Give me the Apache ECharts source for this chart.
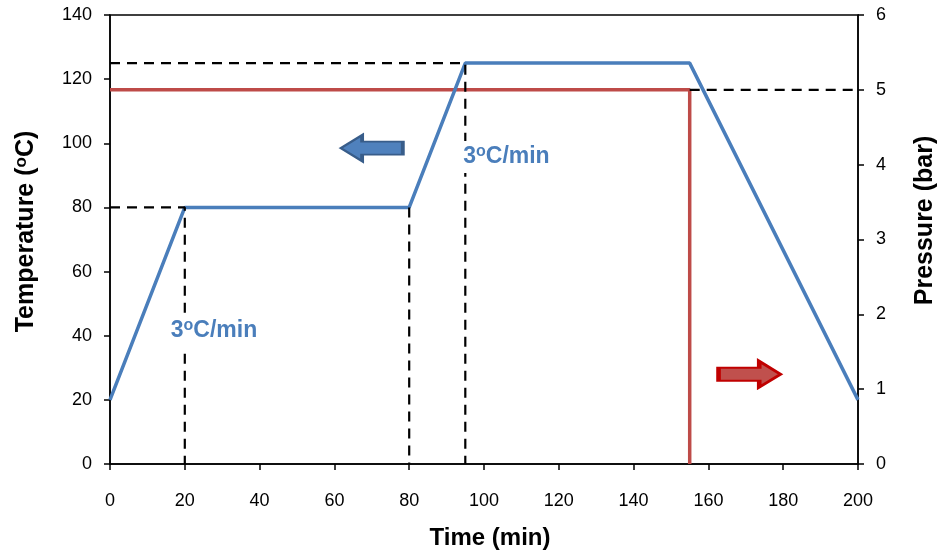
<!DOCTYPE html>
<html><head><meta charset="utf-8">
<script src="https://cdn.jsdelivr.net/npm/echarts@6/dist/echarts.min.js"></script>
<style>html,body{margin:0;padding:0;background:#fff}#c{width:941px;height:554px}</style>
</head><body><div id="c"></div>
<script>
// Data
const tempProfile = [[0,20],[20,80],[80,80],[95,125],[155,125],[200,20]];
const pressureProfile = [[0,5],[155,5],[155,0]];
const guide80 = [[0,80],[20,80],[20,0]];
const guide80v = [[80,80],[80,0]];
const guide125 = [[0,125],[95,125],[95,0]];
const guidePressure = [[155,5],[200,5]];
const rateLabels = [{x:27.8,y:41.5},{x:106,y:95.7}];
const blueArrow = [70,98.5];
const redArrow = [171,28];

const FONT = 'Liberation Sans, Arial, sans-serif';
const chart = echarts.init(document.getElementById('c'));
const dash = {color:'#000',width:2.2,type:[10,7]};
const leftArrowPath = 'path://M0,14 L22,0 L22,7 L64,7 L64,21 L22,21 L22,28 Z';
const rightArrowPath = 'path://M64,14 L42,0 L42,7 L0,7 L0,21 L42,21 L42,28 Z';
const axisCommon = {
  axisLine:{show:true,lineStyle:{color:'#000',width:1.5}},
  axisTick:{show:true,inside:false,length:6,lineStyle:{color:'#000',width:1.5}},
  splitLine:{show:false}
};
chart.setOption({
  animation:false,
  grid:{left:110,right:83,top:15,bottom:90,outerBoundsMode:'none',containLabel:false,
        show:true,borderColor:'#000',borderWidth:1.5,backgroundColor:'transparent'},
  xAxis:Object.assign({type:'value',min:0,max:200,interval:20,
    name:'Time (min)',nameLocation:'middle',nameGap:62,
    nameTextStyle:{fontFamily:FONT,fontWeight:'bold',fontSize:24,color:'#000',padding:[0,0,0,12]},
    axisLabel:{margin:28,fontFamily:FONT,fontSize:18,color:'#000'}},axisCommon),
  yAxis:[
    Object.assign({type:'value',min:0,max:140,interval:20,position:'left',
     name:'Temperature ({s|o}C)',
     nameLocation:'middle',nameGap:70,nameRotate:90,
     nameTextStyle:{fontFamily:FONT,fontWeight:'bold',fontSize:25,color:'#000',padding:[0,0,0,16],
       rich:{s:{fontFamily:FONT,fontWeight:'bold',fontSize:17,color:'#000',verticalAlign:'top',padding:[0,0,10,0]}}},
     axisLabel:{margin:18,fontFamily:FONT,fontSize:18,color:'#000'}},axisCommon),
    Object.assign({type:'value',min:0,max:6,interval:1,position:'right',
     name:'Pressure (bar)',nameLocation:'middle',nameGap:55,nameRotate:90,
     nameTextStyle:{fontFamily:FONT,fontWeight:'bold',fontSize:25,color:'#000',padding:[0,0,0,38]},
     axisLabel:{margin:18,fontFamily:FONT,fontSize:18,color:'#000'}},axisCommon)
  ],
  series:[
    {type:'line',data:tempProfile,showSymbol:false,lineStyle:{color:'#4a7ebb',width:3.5},z:3,
     markPoint:{silent:true,data:[
       {coord:blueArrow,symbol:leftArrowPath,symbolSize:[62,26],
        itemStyle:{color:'#4f81bd',borderColor:'#385d8a',borderWidth:2.5},label:{show:false}},
       {coord:redArrow,symbol:rightArrowPath,symbolSize:[62,26],
        itemStyle:{color:'#c0504d',borderColor:'#c00000',borderWidth:3},label:{show:false}}
     ]}},
    {type:'line',yAxisIndex:1,data:pressureProfile,showSymbol:false,lineStyle:{color:'#be4b48',width:3.5},z:2},
    {type:'line',data:guide80,showSymbol:false,lineStyle:dash,z:4},
    {type:'line',data:guide80v,showSymbol:false,lineStyle:dash,z:4},
    {type:'line',data:guide125,showSymbol:false,lineStyle:dash,z:4},
    {type:'line',yAxisIndex:1,data:guidePressure,showSymbol:false,lineStyle:dash,z:4},
    {type:'scatter',data:rateLabels.map(d=>[d.x,d.y]),symbolSize:0,z:6,silent:true,
     itemStyle:{opacity:1},
     label:{show:true,position:'inside',formatter:'3{s|o}C/min',
       fontFamily:FONT,fontWeight:'bold',fontSize:23,color:'#4a7ebb',backgroundColor:'#fff',padding:[3,2],
       rich:{s:{fontFamily:FONT,fontWeight:'bold',fontSize:16,color:'#4a7ebb',verticalAlign:'top',padding:[0,0,10,0]}}}}
  ]
});
</script></body></html>
